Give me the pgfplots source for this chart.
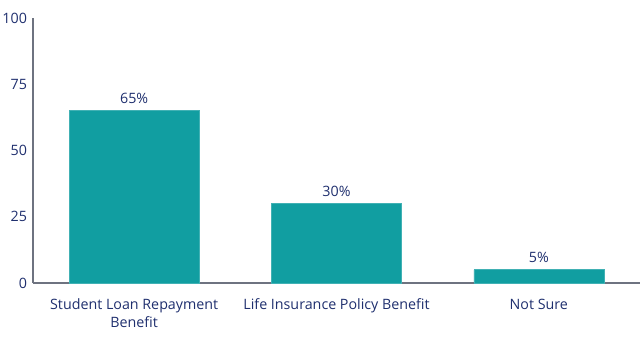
\documentclass[border=0pt]{standalone}
\usepackage{pgfplots}
\pgfplotsset{compat=1.18}
\usepackage{fontspec}
\setmainfont{Open Sans}
\definecolor{barteal}{HTML}{119EA1}
\definecolor{txtnavy}{HTML}{1F2F6E}
\definecolor{axgray}{HTML}{6E7380}
\begin{document}
\begin{tikzpicture}
\path[use as bounding box] (0,0) rectangle (480pt,266.25pt);
\begin{axis}[
  scale only axis,
  at={(24.75pt,54pt)}, anchor=south west,
  width=455.25pt, height=198.75pt,
  xmin=-0.5, xmax=2.5, ymin=0, ymax=100,
  axis x line=bottom, axis y line=left,
  axis line style={axgray, line width=0.8pt, -},
  ytick={0,25,50,75,100},
  xtick={0,1,2},
  xticklabels={{Student Loan Repayment\\Benefit},{Life Insurance Policy Benefit},{Not Sure}},
  xticklabel style={align=center, font=\fontsize{10.7}{13}\selectfont, text=txtnavy, yshift=-8.5pt},
  yticklabel style={font=\fontsize{10.7}{13}\selectfont, text=txtnavy, xshift=-1pt},
  major tick length=0pt,
  /pgf/number format/assume math mode=true,
  ybar, bar width=0.643,
  nodes near coords={\pgfmathprintnumber{\pgfplotspointmeta}\%},
  every node near coord/.append style={font=\fontsize{10.7}{13}\selectfont, text=txtnavy, yshift=1.5pt},
  clip=false,
]
\addplot[fill=barteal, draw=barteal!80!white, line width=0.4pt] coordinates {(0,65) (1,30) (2,5)};
\end{axis}
\end{tikzpicture}
\end{document}
